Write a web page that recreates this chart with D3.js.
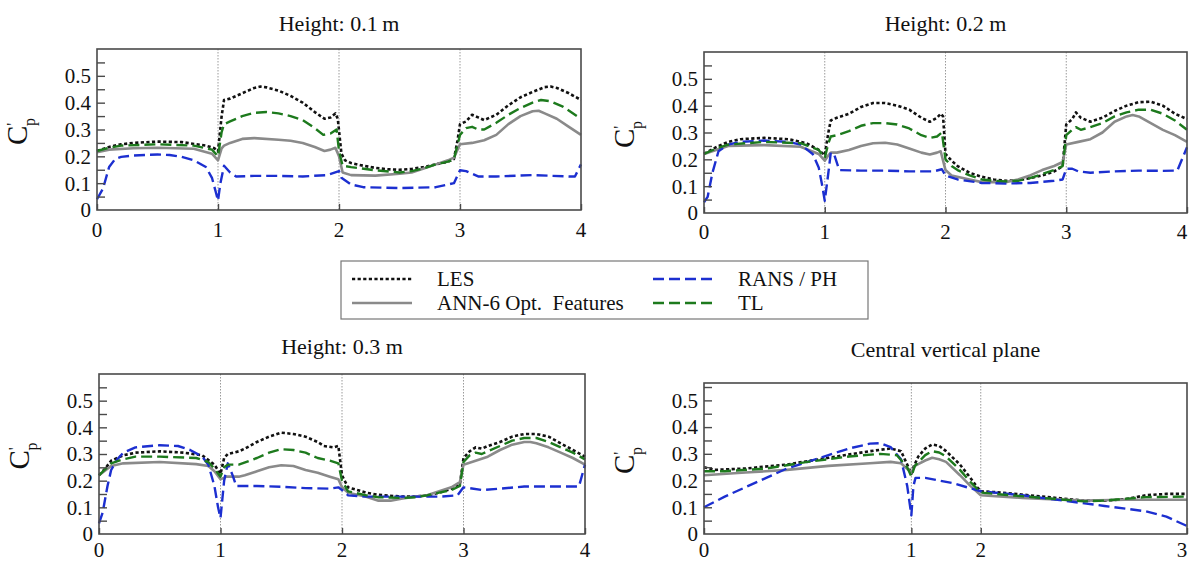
<!DOCTYPE html>
<html>
<head>
<meta charset="utf-8">
<script src="https://cdn.jsdelivr.net/npm/d3@7"></script>
<style>
  body { margin: 0; background: #fff; }
</style>
</head>
<body>
<script>
// C'p values, [x, value] per series and panel

// Height 0.1 m
const les01 = [[0,0.22],[0.1,0.235],[0.2,0.245],[0.3,0.25],[0.5,0.255],[0.7,0.253],[0.9,0.24],[0.97,0.23],[1.0,0.218],[1.03,0.35],[1.05,0.41],[1.1,0.415],[1.2,0.435],[1.3,0.455],[1.35,0.46],[1.4,0.457],[1.5,0.445],[1.6,0.425],[1.7,0.4],[1.8,0.365],[1.88,0.34],[1.93,0.345],[1.97,0.36],[1.99,0.34],[2.02,0.21],[2.05,0.185],[2.1,0.175],[2.2,0.165],[2.3,0.157],[2.4,0.152],[2.5,0.15],[2.6,0.153],[2.7,0.16],[2.8,0.17],[2.9,0.18],[2.95,0.19],[2.98,0.26],[3.0,0.32],[3.05,0.33],[3.1,0.355],[3.15,0.345],[3.2,0.335],[3.3,0.355],[3.4,0.39],[3.5,0.42],[3.6,0.44],[3.7,0.458],[3.75,0.46],[3.8,0.455],[3.9,0.435],[4.0,0.41]];
const ann01 = [[0,0.215],[0.1,0.225],[0.3,0.23],[0.5,0.232],[0.8,0.228],[0.95,0.21],[1.0,0.185],[1.03,0.23],[1.05,0.24],[1.1,0.25],[1.2,0.265],[1.3,0.268],[1.5,0.262],[1.6,0.258],[1.7,0.25],[1.8,0.235],[1.88,0.22],[1.93,0.225],[1.97,0.232],[2.0,0.2],[2.03,0.14],[2.1,0.13],[2.3,0.128],[2.5,0.135],[2.6,0.14],[2.7,0.155],[2.8,0.17],[2.9,0.185],[2.95,0.195],[3.0,0.245],[3.1,0.25],[3.2,0.26],[3.3,0.28],[3.4,0.32],[3.5,0.35],[3.6,0.368],[3.65,0.37],[3.7,0.36],[3.8,0.34],[3.9,0.31],[4.0,0.28]];
const rans01 = [[0,0.04],[0.05,0.08],[0.1,0.16],[0.15,0.19],[0.2,0.198],[0.3,0.203],[0.5,0.207],[0.6,0.205],[0.7,0.198],[0.8,0.185],[0.9,0.16],[0.95,0.12],[0.98,0.07],[1.0,0.035],[1.02,0.1],[1.05,0.165],[1.1,0.14],[1.15,0.125],[1.3,0.127],[1.5,0.127],[1.7,0.125],[1.9,0.13],[2.0,0.145],[2.02,0.12],[2.1,0.095],[2.2,0.085],[2.5,0.082],[2.8,0.085],[2.95,0.1],[3.0,0.148],[3.05,0.145],[3.1,0.135],[3.15,0.125],[3.3,0.125],[3.6,0.13],[3.9,0.125],[3.95,0.125],[4.0,0.17]];
const tl01 = [[0,0.22],[0.1,0.232],[0.2,0.24],[0.5,0.245],[0.8,0.24],[0.95,0.225],[1.0,0.2],[1.03,0.29],[1.05,0.32],[1.1,0.33],[1.2,0.35],[1.3,0.362],[1.4,0.365],[1.5,0.36],[1.6,0.35],[1.7,0.335],[1.8,0.305],[1.87,0.28],[1.93,0.285],[1.98,0.3],[2.0,0.22],[2.03,0.165],[2.1,0.16],[2.3,0.148],[2.5,0.14],[2.6,0.145],[2.7,0.155],[2.8,0.17],[2.9,0.18],[2.95,0.19],[3.0,0.28],[3.05,0.305],[3.1,0.31],[3.15,0.3],[3.2,0.3],[3.3,0.325],[3.4,0.355],[3.5,0.38],[3.6,0.4],[3.67,0.41],[3.75,0.405],[3.85,0.385],[4.0,0.34]];

// Height 0.2 m
const les02 = [[0,0.22],[0.1,0.245],[0.2,0.265],[0.3,0.275],[0.5,0.28],[0.7,0.275],[0.85,0.26],[0.95,0.235],[1.0,0.215],[1.03,0.3],[1.05,0.345],[1.1,0.355],[1.2,0.37],[1.3,0.395],[1.4,0.41],[1.5,0.41],[1.6,0.4],[1.7,0.385],[1.8,0.355],[1.87,0.34],[1.93,0.355],[1.96,0.37],[1.98,0.36],[2.0,0.22],[2.05,0.195],[2.1,0.175],[2.2,0.15],[2.3,0.135],[2.4,0.125],[2.5,0.12],[2.6,0.122],[2.7,0.13],[2.8,0.14],[2.9,0.155],[2.97,0.175],[3.0,0.33],[3.05,0.35],[3.08,0.375],[3.12,0.355],[3.2,0.34],[3.3,0.355],[3.4,0.38],[3.5,0.4],[3.6,0.413],[3.7,0.415],[3.8,0.4],[3.9,0.37],[4.0,0.35]];
const ann02 = [[0,0.22],[0.1,0.235],[0.2,0.25],[0.5,0.253],[0.8,0.247],[0.95,0.22],[1.0,0.195],[1.03,0.215],[1.05,0.225],[1.1,0.225],[1.2,0.235],[1.3,0.25],[1.4,0.26],[1.5,0.262],[1.6,0.255],[1.7,0.24],[1.8,0.225],[1.87,0.218],[1.93,0.225],[1.96,0.23],[2.0,0.16],[2.05,0.14],[2.2,0.125],[2.3,0.115],[2.5,0.115],[2.6,0.125],[2.7,0.14],[2.8,0.16],[2.9,0.175],[2.97,0.19],[3.0,0.255],[3.1,0.265],[3.2,0.275],[3.3,0.3],[3.4,0.34],[3.5,0.36],[3.55,0.365],[3.6,0.36],[3.7,0.335],[3.8,0.31],[3.9,0.29],[4.0,0.265]];
const rans02 = [[0,0.04],[0.03,0.06],[0.07,0.15],[0.12,0.23],[0.2,0.255],[0.3,0.265],[0.5,0.27],[0.7,0.265],[0.8,0.255],[0.9,0.22],[0.95,0.17],[0.98,0.1],[1.0,0.045],[1.03,0.15],[1.05,0.225],[1.08,0.215],[1.12,0.16],[1.3,0.158],[1.5,0.158],[1.7,0.155],[1.9,0.155],[1.97,0.163],[2.0,0.14],[2.1,0.125],[2.3,0.112],[2.5,0.11],[2.7,0.112],[2.9,0.12],[2.97,0.125],[3.0,0.165],[3.05,0.165],[3.1,0.155],[3.2,0.15],[3.4,0.155],[3.6,0.158],[3.8,0.157],[3.92,0.158],[4.0,0.245]];
const tl02 = [[0,0.22],[0.1,0.24],[0.2,0.255],[0.5,0.265],[0.8,0.26],[0.95,0.235],[1.0,0.205],[1.03,0.26],[1.05,0.285],[1.1,0.29],[1.2,0.305],[1.3,0.325],[1.4,0.335],[1.5,0.335],[1.6,0.33],[1.7,0.315],[1.8,0.29],[1.87,0.28],[1.93,0.285],[1.97,0.3],[2.0,0.2],[2.05,0.175],[2.1,0.16],[2.2,0.14],[2.3,0.125],[2.4,0.12],[2.5,0.118],[2.6,0.12],[2.7,0.13],[2.8,0.145],[2.9,0.16],[2.97,0.175],[3.0,0.29],[3.05,0.31],[3.08,0.32],[3.12,0.31],[3.2,0.32],[3.3,0.335],[3.4,0.36],[3.5,0.375],[3.6,0.385],[3.7,0.385],[3.8,0.37],[3.9,0.345],[4.0,0.31]];

// Height 0.3 m
const les03 = [[0,0.22],[0.05,0.245],[0.1,0.275],[0.2,0.295],[0.3,0.305],[0.5,0.31],[0.7,0.305],[0.85,0.295],[0.95,0.26],[1.0,0.225],[1.03,0.285],[1.06,0.3],[1.15,0.31],[1.2,0.32],[1.3,0.345],[1.4,0.365],[1.5,0.38],[1.6,0.375],[1.7,0.365],[1.8,0.345],[1.85,0.33],[1.93,0.325],[1.97,0.33],[2.0,0.22],[2.05,0.175],[2.2,0.155],[2.3,0.147],[2.5,0.14],[2.6,0.14],[2.7,0.145],[2.8,0.155],[2.9,0.17],[2.97,0.185],[3.0,0.285],[3.05,0.31],[3.1,0.325],[3.15,0.32],[3.2,0.33],[3.3,0.345],[3.4,0.365],[3.5,0.375],[3.6,0.375],[3.7,0.365],[3.8,0.34],[3.9,0.315],[4.0,0.29]];
const ann03 = [[0,0.22],[0.1,0.255],[0.2,0.265],[0.5,0.27],[0.8,0.262],[0.9,0.255],[0.95,0.235],[1.0,0.205],[1.05,0.215],[1.15,0.215],[1.2,0.22],[1.3,0.235],[1.4,0.25],[1.5,0.258],[1.6,0.255],[1.7,0.24],[1.8,0.23],[1.9,0.215],[1.97,0.205],[2.0,0.175],[2.05,0.155],[2.2,0.14],[2.3,0.125],[2.4,0.125],[2.5,0.133],[2.6,0.14],[2.7,0.145],[2.8,0.16],[2.9,0.175],[2.97,0.195],[3.0,0.26],[3.1,0.275],[3.2,0.29],[3.3,0.315],[3.4,0.335],[3.5,0.345],[3.55,0.345],[3.6,0.34],[3.7,0.325],[3.8,0.305],[3.9,0.285],[4.0,0.26]];
const rans03 = [[0,0.04],[0.03,0.08],[0.07,0.18],[0.1,0.24],[0.15,0.28],[0.2,0.305],[0.3,0.325],[0.5,0.333],[0.65,0.33],[0.75,0.315],[0.85,0.29],[0.9,0.26],[0.95,0.18],[0.98,0.1],[1.0,0.06],[1.03,0.2],[1.06,0.265],[1.1,0.22],[1.13,0.18],[1.3,0.18],[1.5,0.177],[1.7,0.172],[1.9,0.17],[1.97,0.175],[2.0,0.165],[2.05,0.145],[2.2,0.14],[2.5,0.14],[2.8,0.14],[2.95,0.145],[3.0,0.175],[3.05,0.172],[3.15,0.165],[3.3,0.17],[3.5,0.178],[3.7,0.178],[3.95,0.178],[4.0,0.26]];
const tl03 = [[0,0.22],[0.1,0.265],[0.2,0.28],[0.3,0.29],[0.5,0.29],[0.8,0.285],[0.9,0.27],[0.95,0.245],[1.0,0.215],[1.03,0.25],[1.06,0.26],[1.15,0.26],[1.3,0.285],[1.4,0.305],[1.5,0.318],[1.6,0.315],[1.7,0.305],[1.8,0.285],[1.9,0.275],[1.97,0.265],[2.0,0.2],[2.05,0.16],[2.2,0.145],[2.3,0.138],[2.5,0.135],[2.6,0.138],[2.7,0.145],[2.8,0.155],[2.9,0.165],[2.97,0.18],[3.0,0.27],[3.05,0.295],[3.1,0.305],[3.15,0.3],[3.2,0.31],[3.3,0.33],[3.4,0.35],[3.5,0.36],[3.6,0.36],[3.7,0.345],[3.8,0.325],[3.9,0.305],[4.0,0.28]];

// Central vertical plane
const lesC = [[0,0.25],[0.05,0.24],[0.2,0.245],[0.4,0.26],[0.6,0.285],[0.8,0.31],[0.9,0.32],[0.95,0.31],[0.98,0.26],[1.0,0.225],[1.03,0.25],[1.1,0.29],[1.2,0.32],[1.3,0.335],[1.4,0.33],[1.5,0.31],[1.7,0.26],[1.85,0.21],[1.95,0.175],[2.0,0.16],[2.1,0.155],[2.3,0.14],[2.5,0.125],[2.6,0.125],[2.7,0.13],[2.8,0.145],[2.9,0.15],[3.0,0.15]];
const annC = [[0,0.22],[0.2,0.23],[0.4,0.24],[0.6,0.255],[0.8,0.265],[0.9,0.27],[0.95,0.265],[1.0,0.23],[1.05,0.255],[1.2,0.275],[1.3,0.285],[1.4,0.28],[1.5,0.27],[1.7,0.22],[1.85,0.18],[2.0,0.145],[2.2,0.135],[2.5,0.125],[2.7,0.128],[3.0,0.128]];
const ransC = [[0,0.1],[0.1,0.14],[0.2,0.175],[0.3,0.21],[0.4,0.245],[0.5,0.27],[0.6,0.295],[0.7,0.32],[0.8,0.338],[0.85,0.34],[0.9,0.325],[0.95,0.28],[0.98,0.18],[1.0,0.07],[1.03,0.18],[1.06,0.21],[1.2,0.21],[1.4,0.2],[1.6,0.19],[1.8,0.175],[2.0,0.16],[2.2,0.145],[2.4,0.125],[2.6,0.105],[2.8,0.085],[2.9,0.065],[3.0,0.03]];
const tlC = [[0,0.235],[0.1,0.235],[0.3,0.245],[0.5,0.27],[0.7,0.29],[0.85,0.3],[0.93,0.295],[0.98,0.25],[1.0,0.215],[1.05,0.255],[1.2,0.295],[1.3,0.31],[1.4,0.305],[1.5,0.29],[1.7,0.24],[1.85,0.195],[2.0,0.155],[2.1,0.148],[2.3,0.135],[2.5,0.122],[2.6,0.125],[2.8,0.138],[3.0,0.14]];

const titles = ["Height: 0.1\u2009m", "Height: 0.2 m", "Height: 0.3 m", "Central vertical plane"];
const yTicks = [0, 0.1, 0.2, 0.3, 0.4, 0.5];
const yMinor = [0.05, 0.1, 0.15, 0.2, 0.25, 0.3, 0.35, 0.4, 0.45, 0.5, 0.55];
const xTicksPerim = [0, 1, 2, 3, 4];
const xTicksPlane = [0, 1, 2, 3];
const legendNames = ["LES", "ANN-6 Opt.\u00a0 Features", "RANS / PH", "TL"];

const FONT = "'Liberation Serif', 'Times New Roman', Times, 'DejaVu Serif', serif";

const styles = {
  les:  { color: "#111", width: 2.6, dash: "3.2,2.4" },
  ann:  { color: "#8a8a8a", width: 2.6, dash: null },
  rans: { color: "#1c2fd0", width: 2.4, dash: "11,5" },
  tl:   { color: "#1d7a1d", width: 2.4, dash: "11,5" }
};

const panels = [
  { title: titles[0], titleY: 31, labelY: 230, box: [97, 581, 49, 210], yMax: 0.6, xd: [0, 1, 2, 3, 4], xr: [0, 0.25, 0.5, 0.75, 1], ticks: xTicksPerim,
    series: { les: les01, ann: ann01, rans: rans01, tl: tl01 } },
  { title: titles[1], titleY: 31, labelY: 232, box: [704, 1187, 52, 213], yMax: 0.6, xd: [0, 1, 2, 3, 4], xr: [0, 0.25, 0.5, 0.75, 1], ticks: xTicksPerim,
    series: { les: les02, ann: ann02, rans: rans02, tl: tl02 } },
  { title: titles[2], titleY: 354, labelY: 550, box: [99, 585, 374, 534], yMax: 0.6, xd: [0, 1, 2, 3, 4], xr: [0, 0.25, 0.5, 0.75, 1], ticks: xTicksPerim,
    series: { les: les03, ann: ann03, rans: rans03, tl: tl03 } },
  { title: titles[3], titleY: 357, labelY: 550, box: [704, 1187, 383, 534], yMax: 0.565, xd: [0, 1, 2, 3], xr: [0, 0.4293, 0.573, 1], ticks: xTicksPlane,
    series: { les: lesC, ann: annC, rans: ransC, tl: tlC } }
];

const svg = d3.select("body").append("svg")
  .attr("width", 1189)
  .attr("height", 564)
  .attr("font-family", FONT);

panels.forEach(p => {
  const [x0, x1, y0, y1] = p.box;
  const w = x1 - x0;
  const x = d3.scaleLinear().domain(p.xd).range(p.xr.map(r => x0 + r * w));
  const y = d3.scaleLinear().domain([0, p.yMax]).range([y1, y0]);
  const g = svg.append("g");

  // title
  g.append("text")
    .attr("x", (x0 + x1) / 2)
    .attr("y", p.titleY)
    .attr("text-anchor", "middle")
    .attr("font-family", FONT)
    .attr("font-size", 22)
    .attr("fill", "#111")
    .text(p.title);

  // dotted guides at the building corners
  g.selectAll(".guide")
    .data(p.ticks.slice(1, -1))
    .enter().append("line")
    .attr("x1", d => x(d)).attr("x2", d => x(d))
    .attr("y1", y0).attr("y2", y1)
    .attr("stroke", "#9a9a9a")
    .attr("stroke-width", 1)
    .attr("stroke-dasharray", "1.5,1.5");

  // curves
  const line = d3.line().x(d => x(d[0])).y(d => y(d[1]));
  ["les", "ann", "rans", "tl"].forEach(k => {
    const s = styles[k];
    g.append("path")
      .datum(p.series[k])
      .attr("d", line)
      .attr("fill", "none")
      .attr("stroke", s.color)
      .attr("stroke-width", s.width)
      .attr("stroke-dasharray", s.dash)
      .attr("stroke-linejoin", "round");
  });

  // frame
  g.append("rect")
    .attr("x", x0).attr("y", y0)
    .attr("width", w).attr("height", y1 - y0)
    .attr("fill", "none")
    .attr("stroke", "#4a4a4a")
    .attr("stroke-width", 1.6);

  // y axis: inward ticks, labels every 0.1
  const yAxis = d3.axisLeft(y).tickValues(yMinor).tickSize(-8).tickFormat("");
  const ya = g.append("g").attr("transform", `translate(${x0},0)`).call(yAxis);
  ya.select(".domain").remove();
  ya.selectAll("line").attr("stroke", "#4a4a4a").attr("stroke-width", 1.4);

  g.selectAll(".ylab")
    .data(yTicks)
    .enter().append("text")
    .attr("x", x0 - 6)
    .attr("y", d => y(d))
    .attr("dy", "0.35em")
    .attr("text-anchor", "end")
    .attr("font-family", FONT)
    .attr("font-size", 21)
    .attr("fill", "#111")
    .text(d => d === 0 ? "0" : d3.format(".1f")(d));

  // x axis
  const xAxis = d3.axisBottom(x).tickValues(p.ticks).tickSize(-6).tickFormat("");
  const xa = g.append("g").attr("transform", `translate(0,${y1})`).call(xAxis);
  xa.select(".domain").remove();
  xa.selectAll("line").attr("stroke", "#4a4a4a").attr("stroke-width", 1.4);

  g.selectAll(".xlab")
    .data(p.ticks)
    .enter().append("text")
    .attr("x", d => Math.min(x(d), 1182))
    .attr("y", p.labelY)
    .attr("dy", "0.33em")
    .attr("text-anchor", "middle")
    .attr("font-family", FONT)
    .attr("font-size", 21)
    .attr("fill", "#111")
    .text(d => d);

  // C'p label
  const lx = x0 - 70;
  const ly = (y0 + y1) / 2 + 2;
  const lab = g.append("text")
    .attr("transform", `translate(${lx},${ly}) rotate(-90)`)
    .attr("text-anchor", "middle")
    .attr("font-family", FONT)
    .attr("font-size", 29)
    .attr("fill", "#111");
  lab.append("tspan").text("C");
  lab.append("tspan").attr("dy", -9).attr("font-size", 16).text("'");
  lab.append("tspan").attr("dx", -3).attr("dy", 17).attr("font-size", 16).text("p");
});

// legend
const leg = svg.append("g");
leg.append("rect")
  .attr("x", 341).attr("y", 261)
  .attr("width", 527).attr("height", 58)
  .attr("fill", "#fff")
  .attr("stroke", "#777")
  .attr("stroke-width", 1.2);

const legItems = [
  { key: "les", name: legendNames[0], lx: 352, tx: 437, ty: 279 },
  { key: "ann", name: legendNames[1], lx: 352, tx: 437, ty: 303 },
  { key: "rans", name: legendNames[2], lx: 653, tx: 738, ty: 279 },
  { key: "tl", name: legendNames[3], lx: 653, tx: 738, ty: 303 }
];
legItems.forEach(it => {
  const s = styles[it.key];
  leg.append("line")
    .attr("x1", it.lx).attr("x2", it.lx + 60)
    .attr("y1", it.ty).attr("y2", it.ty)
    .attr("stroke", s.color)
    .attr("stroke-width", s.width)
    .attr("stroke-dasharray", s.dash);
  leg.append("text")
    .attr("x", it.tx).attr("y", it.ty)
    .attr("dy", "0.35em")
    .attr("font-family", FONT)
    .attr("font-size", 21)
    .attr("fill", "#111")
    .text(it.name);
});
</script>
</body>
</html>
